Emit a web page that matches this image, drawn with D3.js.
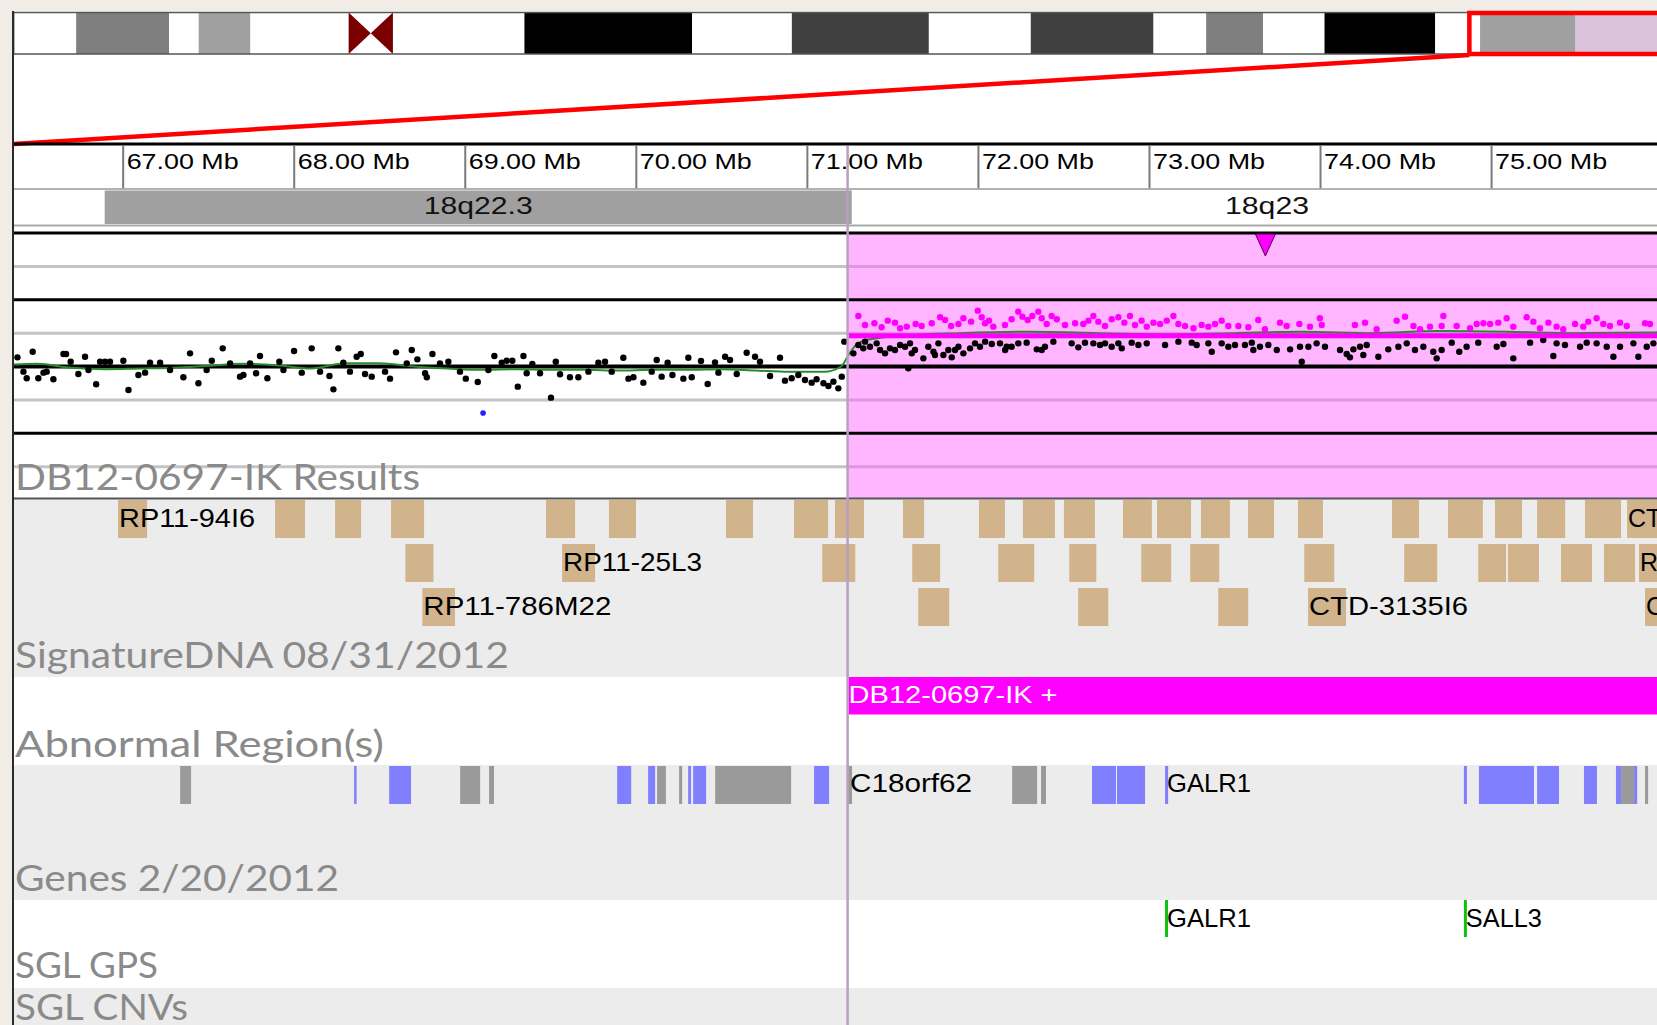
<!DOCTYPE html>
<html><head><meta charset="utf-8">
<script src="https://cdn.jsdelivr.net/npm/d3@7"></script>
<style>
html,body{margin:0;padding:0;background:#f1ede6;overflow:hidden}
svg{display:block}
</style></head><body>
<svg id="chart" width="1657" height="1025"></svg>
<script>
// ================= DATA =================
// chromosome 18 ideogram bands [start Mb, end Mb, stain]
const chromosomeBands = [
  [0, 2.85, "gneg"], [2.85, 7.09, "gpos50"], [7.09, 8.44, "gneg"], [8.44, 10.8, "gpos25"],
  [10.8, 15.28, "gneg"], [15.28, 17.3, "acen"], [17.3, 23.3, "gneg"], [23.3, 30.95, "gpos100"],
  [30.95, 35.5, "gneg"], [35.5, 41.75, "gpos75"], [41.75, 46.4, "gneg"], [46.4, 52.0, "gpos75"],
  [52.0, 54.4, "gneg"], [54.4, 57.0, "gpos50"], [57.0, 59.8, "gneg"], [59.8, 64.85, "gpos100"],
  [64.85, 66.895, "gneg"], [66.895, 71.263, "gpos25"], [71.263, 76.117, "gneg"]
];
const chromosomeLength = 76.117;
const viewRange = [66.363, 75.97];
// ruler ticks (Mb)
const rulerTicks = [67, 68, 69, 70, 71, 72, 73, 74, 75];
// sub-bands in view
const cytobandNames = ["18q22.2", "18q22.3", "18q23"];
const cytobandStart = [64.85, 66.895, 71.263];
const cytobandEnd = [66.895, 71.263, 76.117];
const cytobandStain = ["gneg", "gpos25", "gneg"];
// plot reference levels (log2 ratio)
const gridLevels = [2, 1.5, 1, 0.5, 0, -0.5, -1, -1.5];
// aberration call
const aberrationStart = 71.244, aberrationEnd = 76.117, aberrationValue = 0.46;
const aberrationLabel = "DB12-0697-IK +";
// probe log2 ratios: [Mb, value]
const probesNormal = [
 [66.385,0.137],[66.474,0.222],[66.439,-0.177],[66.507,-0.177],[66.537,-0.092],[66.595,-0.192],[66.654,0.187],[66.669,0.187],
 [66.696,0.072],[66.741,-0.112],[66.780,0.147],[66.845,-0.267],[66.868,0.072],[66.897,0.072],[66.926,0.072],[67.004,0.087],
 [67.034,-0.352],[67.092,-0.127],[67.131,-0.092],[67.160,0.057],[67.219,0.057],[67.355,-0.162],[67.394,0.197],[67.443,-0.252],
 [67.521,0.087],[67.585,0.272],[67.686,-0.152],[67.706,-0.127],[67.780,-0.102],[67.803,0.157],[67.846,-0.177],[67.916,0.072],
 [68.002,0.232],[68.047,-0.092],[68.105,0.272],[68.209,-0.142],[68.232,-0.342],[68.261,0.272],[68.290,0.057],[68.368,0.147],
 [68.392,0.187],[68.417,-0.112],[68.456,-0.152],[68.563,-0.182],[68.598,0.212],[68.690,0.247],[68.723,0.107],[68.768,-0.102],
 [66.420,-0.077],[66.556,-0.077],[66.800,-0.052],[67.277,-0.052],[67.491,-0.052],[67.628,0.047],[67.745,0.047],[67.940,-0.052],
 [68.154,-0.077],[68.329,-0.077],[68.534,-0.077],[68.661,0.047],
 [68.778,-0.162],[68.811,0.187],[68.855,0.047],[68.904,0.072],[68.972,-0.077],[69.006,-0.182],[69.076,-0.232],[69.138,-0.052],
 [69.173,0.157],[69.216,0.057],[69.245,0.087],[69.278,0.087],[69.310,-0.302],[69.343,0.157],[69.362,-0.102],[69.395,0.037],
 [69.440,-0.102],[69.504,-0.467],[69.532,0.072],[69.557,-0.117],[69.615,-0.162],[69.664,-0.162],[69.723,-0.077],[69.781,0.057],
 [69.820,0.072],[69.859,-0.077],[69.927,0.132],[69.957,-0.182],[69.986,-0.162],[70.044,-0.242],[70.093,-0.077],[70.122,0.097],
 [70.151,-0.152],[70.186,0.057],[70.214,-0.127],[70.278,-0.182],[70.307,0.132],[70.327,-0.162],[70.381,0.082],[70.420,-0.262],
 [70.463,0.062],[70.483,-0.092],[70.522,0.147],[70.551,0.097],[70.590,-0.112],[70.648,0.207],[70.697,0.147],[70.726,0.072],
 [70.785,-0.142],[70.843,0.132],[70.872,-0.212],[70.911,-0.177],[70.950,-0.127],[70.989,-0.202],[71.028,-0.242],[71.057,-0.192],
 [71.097,-0.252],[71.126,-0.292],[71.155,-0.227],[71.184,-0.327],[71.204,-0.152],[71.219,0.372],
 [71.272,0.197],[71.301,0.322],[71.340,0.372],[71.369,0.297],[71.408,0.347],[71.457,0.197],[71.486,0.272],[71.515,0.247],
 [71.545,0.322],[71.574,0.297],[71.603,0.347],[71.632,0.247],[71.681,0.122],[71.710,0.297],[71.740,0.222],[71.769,0.347],
 [71.798,0.172],[71.827,0.247],[71.847,0.137],[71.886,0.297],[71.915,0.197],[71.954,0.272],[71.983,0.347],[72.012,0.297],
 [72.042,0.372],[72.081,0.337],[72.129,0.347],[72.159,0.247],[72.197,0.297],[72.236,0.347],[72.285,0.357],[72.344,0.257],
 [72.373,0.247],[72.441,0.372],[72.548,0.347],[72.587,0.287],[72.626,0.357],[72.675,0.347],[72.714,0.322],[72.743,0.347],
 [72.782,0.297],[72.841,0.272],[72.899,0.357],[72.938,0.322],[72.987,0.347],[73.094,0.322],[73.172,0.372],[73.250,0.357],
 [73.279,0.322],[73.367,0.222],[73.425,0.347],[73.464,0.297],[73.503,0.322],[71.593,-0.027],
 [71.330,0.272],[71.428,0.247],[71.613,0.197],[71.749,0.172],[71.866,0.247],[72.168,0.297],[72.392,0.297],[72.821,0.347],
 [73.347,0.347],[73.561,0.322],[73.601,0.357],
 [73.610,0.247],[73.649,0.297],[73.698,0.322],[73.747,0.247],[73.825,0.257],[73.883,0.297],[73.932,0.297],[73.980,0.347],
 [74.029,0.297],[74.117,0.247],[74.156,0.187],[74.195,0.257],[74.234,0.297],[74.273,0.322],[74.341,0.147],[74.399,0.257],
 [74.458,0.297],[74.507,0.347],[74.555,0.247],[74.604,0.297],[74.662,0.222],[74.711,0.247],[74.770,0.357],[74.814,0.222],
 [74.857,0.297],[74.925,0.357],[75.033,0.297],[75.072,0.337],[75.130,0.122],[75.228,0.357],[75.305,0.397],[75.364,0.157],
 [75.383,0.347],[75.432,0.322],[75.520,0.297],[75.559,0.357],[75.617,0.347],[75.676,0.297],[75.715,0.147],[75.754,0.297],
 [75.832,0.347],[75.861,0.147],[75.910,0.297],[75.949,0.347],[73.893,0.072],[74.175,0.137],[74.253,0.172],[74.682,0.122]
];
const probesGain = [
 [71.301,0.757],[71.340,0.622],[71.395,0.647],[71.437,0.587],[71.473,0.687],[71.515,0.657],[71.545,0.572],[71.584,0.597],
 [71.636,0.637],[71.671,0.607],[71.730,0.647],[71.779,0.737],[71.808,0.697],[71.843,0.607],[71.886,0.637],[71.915,0.722],
 [71.960,0.672],[71.999,0.837],[72.022,0.737],[72.042,0.647],[72.065,0.687],[72.090,0.597],[72.158,0.622],[72.197,0.707],
 [72.236,0.822],[72.260,0.747],[72.291,0.697],[72.318,0.757],[72.353,0.822],[72.373,0.722],[72.402,0.637],[72.431,0.757],
 [72.461,0.707],[72.509,0.622],[72.568,0.647],[72.616,0.637],[72.646,0.687],[72.675,0.757],[72.704,0.672],[72.743,0.607],
 [72.782,0.707],[72.821,0.737],[72.856,0.657],[72.889,0.757],[72.918,0.622],[72.957,0.687],[72.987,0.597],[73.026,0.657],
 [73.065,0.637],[73.104,0.687],[73.143,0.757],[73.172,0.637],[73.211,0.607],[73.260,0.572],[73.308,0.622],[73.347,0.597],
 [73.386,0.637],[73.425,0.687],[73.464,0.607],[73.523,0.607],[73.581,0.587],
 [73.639,0.697],[73.678,0.557],[73.766,0.657],[73.805,0.607],[73.879,0.637],[73.941,0.597],[73.999,0.722],[74.010,0.622],
 [74.204,0.622],[74.263,0.657],[74.331,0.557],[74.448,0.687],[74.497,0.747],[74.546,0.607],[74.585,0.557],[74.643,0.597],
 [74.721,0.757],[74.711,0.607],[74.799,0.607],[74.877,0.572],[74.916,0.637],[74.955,0.647],[74.994,0.637],[75.042,0.657],
 [75.091,0.722],[75.130,0.597],[75.208,0.737],[75.247,0.672],[75.286,0.572],[75.335,0.657],[75.383,0.597],[75.422,0.557],
 [75.491,0.637],[75.539,0.597],[75.568,0.672],[75.617,0.722],[75.656,0.637],[75.695,0.607],[75.754,0.657],[75.793,0.607],
 [75.900,0.647],[75.929,0.637]
];
const probesOutlier = [[69.107, -0.697]];
// smoothed trend line [Mb, value]
const trendLine = [
 [66.363,0.03],[66.5,0.04],[66.7,-0.02],[66.9,-0.04],[67.1,-0.03],[67.3,-0.02],[67.5,0.01],[67.7,0.04],[67.9,0.02],
 [68.1,-0.03],[68.3,0.05],[68.5,0.05],[68.7,0.0],[68.9,-0.03],[69.1,-0.05],[69.3,-0.04],[69.5,-0.05],[69.7,-0.05],
 [69.9,-0.06],[70.1,-0.05],[70.3,-0.05],[70.5,-0.04],[70.7,-0.06],[70.9,-0.08],[71.1,-0.08],[71.2,0.0],[71.25,0.2],
 [71.3,0.35],[71.4,0.42],[71.6,0.47],[71.9,0.5],[72.3,0.52],[72.7,0.5],[73.1,0.48],[73.5,0.5],[73.9,0.52],[74.3,0.5],
 [74.7,0.53],[75.1,0.52],[75.5,0.5],[75.97,0.51]
];
// BAC clones: [start Mb, end Mb, row, label]
const clones = [
 [66.973,67.143,0,"RP11-94I6"],[67.891,68.066,0,""],[68.242,68.394,0,""],[68.569,68.762,0,""],[69.475,69.645,0,""],
 [69.843,70.001,0,""],[70.527,70.685,0,""],[70.925,71.124,0,""],[71.164,71.334,0,""],[71.562,71.685,0,""],
 [72.006,72.158,0,""],[72.263,72.450,0,""],[72.503,72.684,0,""],[72.848,73.017,0,""],[73.047,73.246,0,""],
 [73.304,73.473,0,""],[73.579,73.731,0,""],[73.871,74.017,0,""],[74.421,74.579,0,""],[74.748,74.952,0,""],
 [75.023,75.181,0,""],[75.269,75.433,0,""],[75.549,75.760,0,""],[75.795,75.990,0,"CT"],
 [68.653,68.817,1,""],[69.569,69.762,1,"RP11-25L3"],[71.090,71.283,1,""],[71.616,71.779,1,""],[72.119,72.329,1,""],
 [72.534,72.692,1,""],[72.955,73.130,1,""],[73.241,73.411,1,""],[73.908,74.083,1,""],[74.492,74.685,1,""],
 [74.925,75.088,1,""],[75.099,75.280,1,""],[75.409,75.590,1,""],[75.660,75.842,1,""],[75.865,75.990,1,"R"],
 [68.752,68.943,2,"RP11-786M22"],[71.651,71.832,2,""],[72.586,72.762,2,""],[73.405,73.580,2,""],
 [73.930,74.152,2,"CTD-3135I6"],[75.900,75.990,2,"C"]
];
// abnormal-region genes: [start Mb, end Mb, kind, label]
const regionFeatures = [
 [67.336,67.400,"gray",""],[68.973,69.090,"gray",""],[69.142,69.171,"gray",""],[70.124,70.176,"gray",""],
 [70.253,70.271,"gray",""],[70.464,70.908,"gray",""],[71.241,71.264,"gray","C18orf62"],[72.200,72.346,"gray",""],
 [72.369,72.398,"gray",""],[75.760,75.836,"gray",""],[75.900,75.918,"gray",""],
 [68.353,68.365,"blue",""],[68.558,68.686,"blue",""],[69.891,69.973,"blue",""],[70.072,70.113,"blue",""],
 [70.306,70.323,"blue",""],[70.335,70.411,"blue",""],[71.042,71.130,"blue",""],[72.667,72.807,"blue",""],
 [72.813,72.977,"blue",""],[73.094,73.112,"blue","GALR1"],[74.841,74.859,"blue",""],[74.929,75.251,"blue",""],
 [75.269,75.397,"blue",""],[75.543,75.619,"blue",""],[75.730,75.760,"blue",""],[75.836,75.854,"blue",""]
];
// SGL GPS genes
const gpsGeneNames = ["GALR1", "SALL3"];
const gpsGenePos = [73.094, 74.841];
// track titles
const trackTitles = ["DB12-0697-IK Results", "SignatureDNA 08/31/2012", "Abnormal Region(s)", "Genes 2/20/2012", "SGL GPS", "SGL CNVs"];

// ================= LAYOUT / STYLE =================
const W = 1657, H = 1025, left = 13.7;
const stainColor = {gneg:"#ffffff", gpos25:"#a0a0a0", gpos50:"#7f7f7f", gpos75:"#404040", gpos100:"#000000", acen:"#7a0000"};
const svg = d3.select("#chart");
const x = d3.scaleLinear().domain(viewRange).range([left, W]);
const ix = d3.scaleLinear().domain([0, chromosomeLength]).range([left, left + chromosomeLength * 21.92]);
const y = d3.scaleLinear().domain([-2, 2]).range([500, 233]);
const sans = "'Liberation Sans', Arimo, Arial, sans-serif";
const titleFont = "Lato, 'Open Sans', sans-serif";
const textWidths = {"18q22.3":109,"18q23":84,"RP11-94I6":136,"RP11-25L3":139,"RP11-786M22":188,"CTD-3135I6":159,
  "C18orf62":122,"GALR1":84,"SALL3":76,"DB12-0697-IK +":209,
  "DB12-0697-IK Results":405,"SignatureDNA 08/31/2012":494,"Abnormal Region(s)":369,"Genes 2/20/2012":324,"SGL GPS":143,"SGL CNVs":173};
function tl(t){ return textWidths[t] || (/Mb$/.test(t) ? 112 : null); }

// panel
svg.append("rect").attr("x", left).attr("y", 11).attr("width", W - left).attr("height", H - 11).attr("fill", "#fff");

// track backgrounds
const tracks = [[499, 677, "#ececec"], [677, 765, "#ffffff"], [765, 900, "#ececec"], [900, 988, "#ffffff"], [988, 1025, "#ececec"]];
svg.append("g").selectAll("rect").data(tracks).join("rect")
  .attr("x", left).attr("width", W - left).attr("y", d => d[0]).attr("height", d => d[1] - d[0]).attr("fill", d => d[2]);

// ---------- ideogram ----------
const iY0 = 12.5, iY1 = 54;
const gI = svg.append("g");
gI.selectAll("rect").data(chromosomeBands.filter(b => b[2] !== "acen")).join("rect")
  .attr("x", d => ix(d[0])).attr("width", d => ix(d[1]) - ix(d[0]))
  .attr("y", iY0).attr("height", iY1 - iY0).attr("fill", d => stainColor[d[2]]);
gI.append("rect").attr("x", ix(aberrationStart)).attr("width", ix(aberrationEnd) - ix(aberrationStart))
  .attr("y", iY0).attr("height", iY1 - iY0).attr("fill", "#dac3da");
chromosomeBands.filter(b => b[2] === "acen").forEach(b => {
  const x0 = ix(b[0]), x1 = ix(b[1]), xm = (x0 + x1) / 2, ym = (iY0 + iY1) / 2;
  gI.append("path").attr("fill", stainColor.acen)
    .attr("d", `M${x0},${iY0}L${xm},${ym}L${x0},${iY1}Z M${x1},${iY0}L${xm},${ym}L${x1},${iY1}Z`);
});
gI.append("rect").attr("x", ix(0)).attr("width", ix(chromosomeLength) - ix(0)).attr("y", iY0).attr("height", iY1 - iY0)
  .attr("fill", "none").attr("stroke", "#555").attr("stroke-width", 1.5);
// selection box + zoom line
gI.append("rect").attr("x", ix(viewRange[0]) + 1).attr("width", ix(viewRange[1]) - ix(viewRange[0]))
  .attr("y", 13).attr("height", 41).attr("fill", "none").attr("stroke", "#ff0000").attr("stroke-width", 4.5);
gI.append("path").attr("fill", "none").attr("stroke", "#ff0000").attr("stroke-width", 4.5)
  .attr("d", `M${ix(viewRange[0]) + 1},55L${x(viewRange[0])},144`);

// ---------- ruler ----------
svg.append("line").attr("x1", left).attr("x2", W).attr("y1", 144).attr("y2", 144).attr("stroke", "#000").attr("stroke-width", 3);
const ruler = svg.append("g").attr("transform", "translate(0,145.5)")
  .call(d3.axisBottom(x).tickValues(rulerTicks).tickSize(43).tickFormat(d => d3.format(".2f")(d) + " Mb"));
ruler.select(".domain").remove();
ruler.selectAll(".tick line").attr("stroke", "#7a7a7a").attr("stroke-width", 2);
ruler.selectAll(".tick text").attr("dy", null).attr("y", 23.5).attr("x", 3.5)
  .attr("text-anchor", "start").attr("fill", "#000").attr("font-family", sans).attr("font-size", 21.5)
  .attr("textLength", function(){ return tl(this.textContent); }).attr("lengthAdjust", "spacingAndGlyphs");
svg.append("line").attr("x1", left).attr("x2", W).attr("y1", 189).attr("y2", 189).attr("stroke", "#999").attr("stroke-width", 1.5);

// ---------- cytoband row ----------
const cb = cytobandNames.map((n, i) => ({name: n, s: cytobandStart[i], e: cytobandEnd[i], stain: cytobandStain[i]}));
svg.append("g").selectAll("rect").data(cb).join("rect")
  .attr("x", d => Math.max(left, x(d.s))).attr("width", d => x(d.e) - Math.max(left, x(d.s)))
  .attr("y", 190.5).attr("height", 33.5).attr("fill", d => stainColor[d.stain]);
svg.append("g").selectAll("text").data(cb.filter(d => Math.min(W, x(d.e)) - Math.max(left, x(d.s)) > 150)).join("text")
  .attr("x", d => (Math.max(left, x(d.s)) + x(d.e)) / 2).attr("y", 213.5).attr("text-anchor", "middle")
  .attr("font-family", sans).attr("font-size", 23).attr("fill", "#111")
  .attr("textLength", d => tl(d.name)).attr("lengthAdjust", "spacingAndGlyphs").text(d => d.name);
svg.append("line").attr("x1", left).attr("x2", W).attr("y1", 225.5).attr("y2", 225.5).attr("stroke", "#aaa").attr("stroke-width", 2);

// ---------- log-ratio plot ----------
const gP = svg.append("g");
gP.append("g").selectAll("line").data(gridLevels.filter(v => v % 1 !== 0)).join("line")
  .attr("x1", left).attr("x2", W).attr("y1", d => y(d)).attr("y2", d => y(d)).attr("stroke", "#c4c4c4").attr("stroke-width", 3);
gP.append("rect").attr("x", x(aberrationStart)).attr("width", W - x(aberrationStart))
  .attr("y", y(2)).attr("height", 498 - y(2)).attr("fill", "rgb(255,92,255)").attr("fill-opacity", 0.455);
gP.append("g").selectAll("line").data(gridLevels.filter(v => v % 1 === 0)).join("line")
  .attr("x1", left).attr("x2", W).attr("y1", d => y(d)).attr("y2", d => y(d)).attr("stroke", "#000")
  .attr("stroke-width", d => d === 0 ? 4 : 3.2);
gP.append("line").attr("x1", left).attr("x2", W).attr("y1", 498.5).attr("y2", 498.5).attr("stroke", "#555").attr("stroke-width", 2);
gP.append("path").attr("fill", "none").attr("stroke", "#2a8a2a").attr("stroke-width", 2)
  .attr("d", d3.line().x(d => x(d[0])).y(d => y(d[1])).curve(d3.curveMonotoneX)(trendLine));
gP.append("g").selectAll("circle").data(probesNormal).join("circle")
  .attr("cx", d => x(d[0])).attr("cy", d => y(d[1])).attr("r", 3.2).attr("fill", "#000");
gP.append("g").selectAll("circle").data(probesGain).join("circle")
  .attr("cx", d => x(d[0])).attr("cy", d => y(d[1])).attr("r", 3.2).attr("fill", "#ff00ff");
gP.append("g").selectAll("circle").data(probesOutlier).join("circle")
  .attr("cx", d => x(d[0])).attr("cy", d => y(d[1])).attr("r", 2.8).attr("fill", "#2020ff");
gP.append("line").attr("x1", x(aberrationStart)).attr("x2", W).attr("y1", y(aberrationValue)).attr("y2", y(aberrationValue))
  .attr("stroke", "#ff00ff").attr("stroke-width", 5);
const triX = x((aberrationStart + aberrationEnd) / 2);
gP.append("path").attr("d", `M${triX - 10},234L${triX + 10},234L${triX},256Z`)
  .attr("fill", "#ff00ff").attr("stroke", "#500050").attr("stroke-width", 1);

// ---------- clones ----------
const rowY = [500, 544, 588], rowH = 38, rowBase = [527, 571, 615];
const gC = svg.append("g");
gC.selectAll("rect").data(clones).join("rect")
  .attr("x", d => x(d[0])).attr("width", d => x(d[1]) - x(d[0])).attr("y", d => rowY[d[2]]).attr("height", rowH)
  .attr("fill", "#d2b48c");
gC.selectAll("text").data(clones.filter(d => d[3])).join("text")
  .attr("x", d => x(d[0]) + 1).attr("y", d => rowBase[d[2]]).attr("font-family", sans).attr("font-size", 25).attr("fill", "#000")
  .attr("textLength", d => tl(d[3])).attr("lengthAdjust", "spacingAndGlyphs").text(d => d[3]);

// ---------- aberration bar ----------
svg.append("rect").attr("x", x(aberrationStart)).attr("width", W - x(aberrationStart)).attr("y", 677).attr("height", 37.5).attr("fill", "#ff00ff");
svg.append("text").attr("x", x(aberrationStart)).attr("y", 703).attr("font-family", sans).attr("font-size", 24)
  .attr("fill", "#fff").attr("textLength", tl(aberrationLabel)).attr("lengthAdjust", "spacingAndGlyphs").text(aberrationLabel);

// ---------- region features ----------
const gR = svg.append("g");
gR.selectAll("rect").data(regionFeatures).join("rect")
  .attr("x", d => x(d[0])).attr("width", d => Math.max(2.5, x(d[1]) - x(d[0]))).attr("y", 766).attr("height", 38)
  .attr("fill", d => d[2] === "blue" ? "#8080ff" : "#9a9a9a");
gR.selectAll("text").data(regionFeatures.filter(d => d[3])).join("text")
  .attr("x", d => x(d[0]) + 2).attr("y", 792).attr("font-family", sans).attr("font-size", 25).attr("fill", "#000")
  .attr("textLength", d => tl(d[3])).attr("lengthAdjust", "spacingAndGlyphs").text(d => d[3]);

// ---------- SGL GPS ----------
const gG = svg.append("g");
gG.selectAll("line").data(gpsGenePos).join("line")
  .attr("x1", d => x(d) + 1.5).attr("x2", d => x(d) + 1.5).attr("y1", 900).attr("y2", 937).attr("stroke", "#10c010").attr("stroke-width", 3);
gG.selectAll("text").data(gpsGeneNames).join("text")
  .attr("x", (d, i) => x(gpsGenePos[i]) + 2).attr("y", 927).attr("font-family", sans).attr("font-size", 25).attr("fill", "#000")
  .attr("textLength", d => tl(d)).attr("lengthAdjust", "spacingAndGlyphs").text(d => d);

// ---------- selection line ----------
svg.append("line").attr("x1", x(aberrationStart) - 1).attr("x2", x(aberrationStart) - 1).attr("y1", 146).attr("y2", H)
  .attr("stroke", "#b7a0c0").attr("stroke-width", 2.5);

// ---------- track titles ----------
const titleBase = [490, 668, 757, 891, 978, 1020];
svg.append("g").selectAll("text").data(trackTitles).join("text")
  .attr("x", 15).attr("y", (d, i) => titleBase[i]).attr("font-family", titleFont).attr("font-size", 37)
  .attr("fill", "#8a8a8a").attr("textLength", d => tl(d)).attr("lengthAdjust", "spacingAndGlyphs").text(d => d);

// panel left border
svg.append("line").attr("x1", 13).attr("x2", 13).attr("y1", 11).attr("y2", H).attr("stroke", "#2a2a2a").attr("stroke-width", 2);
</script>
</body></html>
